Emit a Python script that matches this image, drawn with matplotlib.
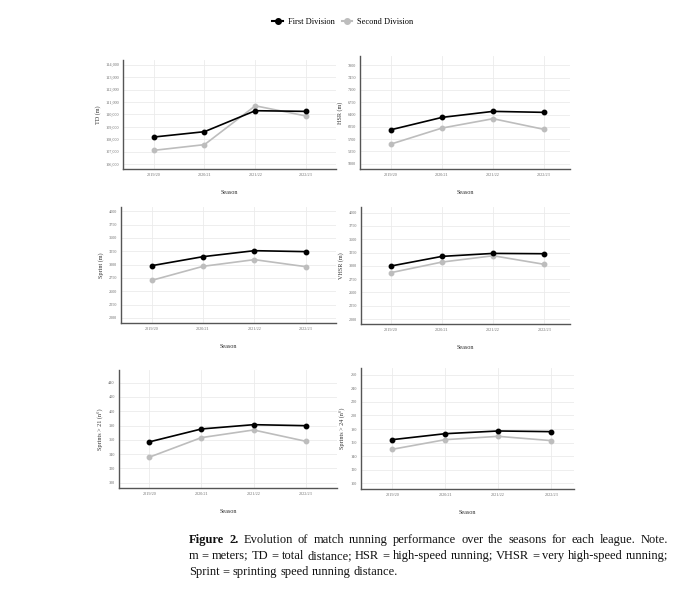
import numpy as np
import matplotlib
matplotlib.use("Agg")
import matplotlib.pyplot as plt
from matplotlib.lines import Line2D

plt.rcParams['font.family'] = ['Liberation Serif', 'DejaVu Serif']

# Data
seasons = ["2019/20", "2020/21", "2021/22", "2022/23"]

td_first = [108190, 108620, 110305, 110250]
td_second = [107120, 107580, 110700, 109880]

hsr_first = [5967, 6318, 6489, 6461]
hsr_second = [5560, 6015, 6280, 5977]

sprint_first = [2981, 3150, 3262, 3244]
sprint_second = [2706, 2969, 3094, 2962]

vhsr_first = [2996, 3178, 3234, 3228]
vhsr_second = [2871, 3071, 3190, 3028]

sp21_first = [357.1, 375.2, 381.2, 379.8]
sp21_second = [335.7, 363.1, 373.8, 358.0]

sp24_first = [164.3, 173.1, 177.1, 176.1]
sp24_second = [150.1, 164.3, 169.2, 162.9]

td_ticks = list(range(106000, 114001, 1000))
hsr_ticks = list(range(5000, 7801, 350))
sprint_ticks = list(range(2000, 4001, 250))
sp21_ticks = list(range(300, 441, 20))
sp24_ticks = list(range(100, 261, 20))

series_names = ["First Division", "Second Division"]

# Style
FIRST_COLOR = "#000000"
SECOND_COLOR = "#bdbdbd"
GRID_COLOR = "#ebebeb"
SPINE_COLOR = "#555555"
TICK_COLOR = "#6e6e6e"
LABEL_COLOR = "#333333"

W, H = 680, 599
fig = plt.figure(figsize=(W / 100, H / 100), dpi=100)


def px_axes(l, t, r, b):
    return fig.add_axes([l / W, 1 - b / H, (r - l) / W, (b - t) / H])


# (ylabel, first, second, ticks, box px (l, t, r, b), xlim, ylim, comma)
panels = [
    ("TD (m)", td_first, td_second, td_ticks, (123, 60, 336, 169),
     (-0.605, 3.59), (105623, 114377), True),
    ("HSR (m)", hsr_first, hsr_second, hsr_ticks, (360, 56, 570, 169),
     (-0.61, 3.51), (4849, 8065), False),
    ("Sprint (m)", sprint_first, sprint_second, sprint_ticks, (121, 207, 336, 323),
     (-0.60, 3.59), (1906, 4081), False),
    ("VHSR (m)", vhsr_first, vhsr_second, sprint_ticks, (361, 207, 570, 324),
     (-0.58, 3.50), (1906, 4107), False),
    ("Sprints > 21 (n°)", sp21_first, sp21_second, sp21_ticks, (119, 370, 337, 488),
     (-0.58, 3.60), (292.6, 457.7), False),
    ("Sprints > 24 (n°)", sp24_first, sp24_second, sp24_ticks, (361, 368, 574, 489),
     (-0.59, 3.43), (91.6, 269.9), False),
]

x = np.arange(len(seasons))
for ylabel, first, second, ticks, box, xlim, ylim, comma in panels:
    ax = px_axes(*box)
    ax.plot(x, second, color=SECOND_COLOR, lw=1.2, marker="o", ms=3.2, zorder=3)
    ax.plot(x, first, color=FIRST_COLOR, lw=1.2, marker="o", ms=3.2, zorder=4)
    ax.set_xlim(*xlim)
    ax.set_ylim(*ylim)
    ax.set_xticks(x)
    ax.set_xticklabels(seasons)
    ax.set_yticks(ticks)
    if comma:
        ax.set_yticklabels([f"{t:,}" for t in ticks])
    ax.tick_params(length=0, labelsize=3.1, colors=TICK_COLOR, pad=3)
    ax.grid(True, color=GRID_COLOR, lw=0.6)
    ax.set_axisbelow(True)
    for s in ["top", "right"]:
        ax.spines[s].set_visible(False)
    for s in ["left", "bottom"]:
        ax.spines[s].set_color(SPINE_COLOR)
        ax.spines[s].set_linewidth(1.0)
    ax.set_xlabel("Season", fontsize=4.4, color=LABEL_COLOR, labelpad=9)
    ax.set_ylabel(ylabel, fontsize=4.4, color=LABEL_COLOR, labelpad=3)

handles = [
    Line2D([], [], color=FIRST_COLOR, lw=1.5, marker="o", ms=4),
    Line2D([], [], color=SECOND_COLOR, lw=1.5, marker="o", ms=4),
]
fig.legend(handles, series_names, loc="center", bbox_to_anchor=(343 / W, 1 - 22 / H),
           ncol=2, frameon=False, fontsize=6, handlelength=1.3, handletextpad=0.6,
           columnspacing=0.8)

# Caption, justified word by word
cap_left, cap_right = 189, 668
cap_lines = [
    ("Figure 2.  Evolution of match running performance over the seasons for each league.  Note.", True),
    ("m = meters; TD = total distance; HSR = high-speed running; VHSR = very high-speed running;", True),
    ("Sprint = sprinting speed running distance.", False),
]
cap_y = [540, 556, 572]
cap_size = 9.0
renderer = fig.canvas.get_renderer()
for (line, justify), yy in zip(cap_lines, cap_y):
    words = line.split()
    texts = []
    for i, w in enumerate(words):
        bold = (i < 2 and line.startswith("Figure"))
        t = fig.text(0, 1 - yy / H, w, fontsize=cap_size, va="center", ha="left",
                     fontweight="bold" if bold else "normal", color="#111111")
        texts.append(t)
    widths = [t.get_window_extent(renderer).width for t in texts]
    if justify:
        gap = (cap_right - cap_left - sum(widths)) / (len(words) - 1)
    else:
        gap = cap_size * 100 / 72 * 0.25
    xx = cap_left
    for t, w in zip(texts, widths):
        t.set_x(xx / W)
        xx += w + gap

fig.savefig("out.png", dpi=100, facecolor="white")
